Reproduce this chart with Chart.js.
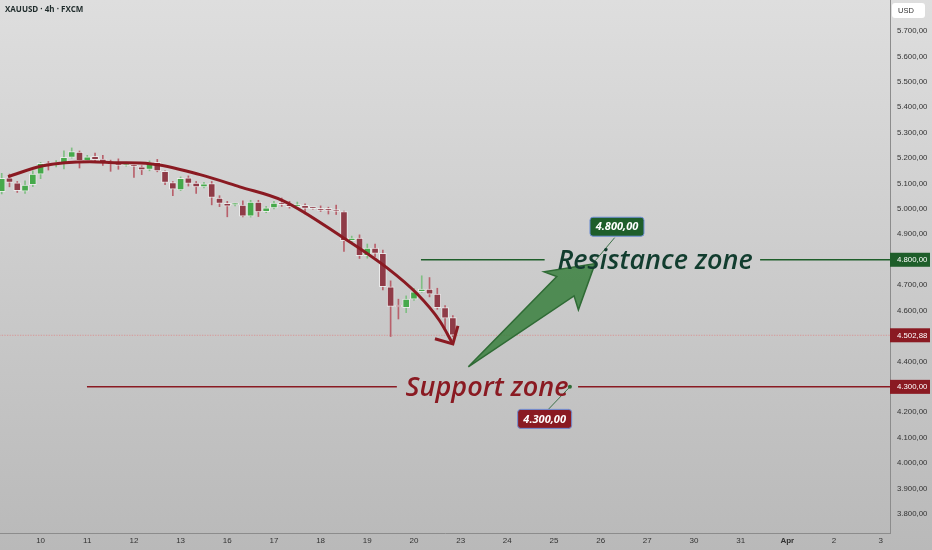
<!DOCTYPE html>
<html>
<head>
<meta charset="utf-8">
<script src="https://cdn.jsdelivr.net/npm/chart.js@4.4.1/dist/chart.umd.min.js"></script>
<style>
html, body { margin: 0; padding: 0; background: #cccccc; }
#wrap { width: 932px; height: 550px; position: relative; }
</style>
</head>
<body>
<div id="wrap"><canvas id="chart"></canvas></div>
<script>
// XAUUSD 4h candles, bar 0 = last bars of the 9th
let opens  = [5068, 5122, 5103, 5070, 5095, 5137, 5179, 5175, 5181, 5203, 5224, 5190, 5207, 5196, 5187, 5179, 5171, 5175, 5166, 5155,
              5183, 5148, 5104, 5075, 5122, 5102, 5087, 5100, 5043, 5022, 5016, 5015, 4972, 5027, 4989, 5004, 5024, 5019, 5009, 5014,
              5003, 5002, 4996, 4996, 4990, 4875, 4885, 4816, 4846, 4825, 4694, 4617, 4612, 4645, 4674, 4685, 4665, 4612, 4573]
let highs  = [5140, 5137, 5108, 5111, 5150, 5183, 5187, 5190, 5229, 5240, 5228, 5211, 5220, 5211, 5192, 5197, 5180, 5178, 5170, 5189,
              5195, 5150, 5108, 5126, 5130, 5108, 5105, 5108, 5052, 5030, 5022, 5032, 5034, 5034, 5010, 5030, 5043, 5030, 5027, 5020,
              5004, 5012, 5007, 5015, 4992, 4893, 4898, 4862, 4862, 4838, 4717, 4645, 4658, 4688, 4737, 4730, 4688, 4620, 4580]
let lows   = [5059, 5087, 5065, 5061, 5088, 5119, 5153, 5165, 5157, 5200, 5161, 5186, 5187, 5171, 5148, 5156, 5168, 5124, 5135, 5150,
              5146, 5095, 5052, 5072, 5090, 5061, 5083, 5016, 5009, 4969, 5012, 4969, 4968, 4970, 4985, 5000, 5010, 5003, 5003, 4980,
              4999, 4990, 4980, 4978, 4833, 4868, 4805, 4806, 4812, 4681, 4498, 4567, 4592, 4640, 4672, 4654, 4605, 4533, 4497]
let closes = [5120, 5104, 5072, 5094, 5137, 5179, 5173, 5178, 5203, 5226, 5190, 5205, 5194, 5182, 5177, 5171, 5175, 5167, 5153, 5183,
              5150, 5104, 5078, 5120, 5100, 5087, 5099, 5045, 5022, 5011, 5018, 4972, 5027, 4988, 5004, 5023, 5017, 5009, 5015, 5002,
              5001, 4994, 4994, 4990, 4875, 4885, 4816, 4846, 4825, 4694, 4616, 4614, 4645, 4674, 4685, 4665, 4612, 4570, 4502.88]

// time axis: bar index where each day starts
let dayIdx    = [5, 11, 17, 23, 29, 35, 41, 47, 53, 59, 65, 71, 77, 83, 89, 95, 101, 107, 113]
let dayLabels = ['10', '11', '12', '13', '16', '17', '18', '19', '20', '23', '24', '25', '26', '27', '30', '31', 'Apr', '2', '3']
let priceTicks = [3800, 3900, 4000, 4100, 4200, 4300, 4400, 4500, 4600, 4700, 4800, 4900, 5000, 5100, 5200, 5300, 5400, 5500, 5600, 5700]

// drawings (bar index, price)
let arcX = [0.81, 5.31, 11.35, 14.8, 19.06, 25.5, 30.6, 36.2, 43.9, 49.5, 53.4, 56.3, 58.0]
let arcY = [5127, 5170, 5186, 5182, 5178, 5135, 5087, 5032, 4887, 4769, 4666, 4560, 4469]
let arcHeadX = [55.7, 58.0, 58.65]
let arcHeadY = [4489, 4469, 4540]
let upArrowX = [59.99, 71.36, 69.72, 76.28, 74.14, 73.58, 59.99]
let upArrowY = [4379, 4734, 4753, 4785, 4603, 4658, 4379]

let resistance = 4800
let support = 4300
let lastPrice = 4502.88
let resistanceSegX = [[53.9, 69.8], [97.5, 116]]
let supportSegX = [[10.96, 50.8], [74.1, 116]]
let zoneText = ['Resistance zone', 'Support zone']
let zoneTextX = [84.0, 62.4]
let calloutText = ['4.800,00', '4.300,00']
let calloutX = [79.1, 69.8]
let calloutY = [4930, 4174]
let linkX = [[78.8, 76.3], [70.2, 73.05]]
let linkY = [[4887, 4796], [4209, 4300]]


const GREEN = '#46a94b'
const RED = '#8f3b47'
const DARKRED = '#8a1a22'
const DARKGREEN = '#1e5e2a'

function fmt(v) {
    let s = v.toFixed(2).split('.')
    return s[0].replace(/\B(?=(\d{3})+(?!\d))/g, '.') + ',' + s[1]
}

function pts(xs, ys) {
    return xs.map((x, i) => ({ x: x, y: ys[i] }))
}

function lineSet(data, color, width, extra) {
    return Object.assign({
        type: 'line',
        data: data,
        borderColor: color,
        borderWidth: width,
        pointRadius: 0,
        fill: false,
        tension: 0,
        order: 1
    }, extra || {})
}

const up = closes.map((c, i) => c >= opens[i])

const datasets = [
    {
        type: 'bar',
        data: opens.map((o, i) => ({ x: i, y: [o, closes[i]] })),
        backgroundColor: up.map(u => u ? GREEN : RED),
        borderColor: 'rgba(238,238,238,0.85)',
        borderWidth: 1,
        borderSkipped: false,
        barThickness: 7,
        minBarLength: 2,
        grouped: false,
        order: 4
    },
    {
        type: 'bar',
        data: lows.map((l, i) => ({ x: i, y: [l, highs[i]] })),
        backgroundColor: up.map(u => u ? '#7fbf83' : '#b8606b'),
        barThickness: 1,
        grouped: false,
        order: 5
    },
    lineSet([{ x: -2, y: lastPrice }, { x: 120, y: lastPrice }], 'rgba(226,120,120,0.6)', 1, { borderDash: [1.3, 1.3], order: 6 }),
    lineSet(pts(arcX, arcY), DARKRED, 3, { cubicInterpolationMode: 'monotone' }),
    lineSet(pts(arcHeadX, arcHeadY), DARKRED, 3),
    lineSet(pts(upArrowX, upArrowY), '#2f6b35', 1.5, { fill: 'shape', backgroundColor: 'rgba(58,128,62,0.85)', order: 2 })
]
resistanceSegX.forEach(s => datasets.push(lineSet([{ x: s[0], y: resistance }, { x: s[1], y: resistance }], DARKGREEN, 1.5)))
supportSegX.forEach(s => datasets.push(lineSet([{ x: s[0], y: support }, { x: s[1], y: support }], DARKRED, 1.5)))
linkX.forEach((lx, i) => datasets.push(lineSet(pts(lx, linkY[i]), '#3c7048', 1)))


const overlay = {
    id: 'overlay',
    beforeDraw(chart) {
        const c = chart.ctx
        const g = c.createLinearGradient(0, 0, 0, chart.height)
        g.addColorStop(0, '#dedede')
        g.addColorStop(1, '#b9b9b9')
        c.save()
        c.fillStyle = g
        c.fillRect(0, 0, chart.width, chart.height)
        c.restore()
    },
    afterDatasetsDraw(chart) {
        const c = chart.ctx
        const xs = chart.scales.x, ys = chart.scales.y
        const area = chart.chartArea
        c.save()

        // zone captions
        c.textAlign = 'center'
        c.textBaseline = 'alphabetic'
        c.font = 'italic 600 27px "Open Sans"'
        c.fillStyle = '#123d2f'
        c.fillText(zoneText[0], xs.getPixelForValue(zoneTextX[0]), ys.getPixelForValue(resistance) + 9.5)
        c.fillStyle = DARKRED
        c.fillText(zoneText[1], xs.getPixelForValue(zoneTextX[1]), ys.getPixelForValue(support) + 9.5)

        // little anchor dot
        c.fillStyle = '#2f6b35'
        c.beginPath()
        c.arc(xs.getPixelForValue(linkX[1][1]), ys.getPixelForValue(linkY[1][1]), 2, 0, Math.PI * 2)
        c.fill()

        // price callouts
        const boxCol = [DARKGREEN, DARKRED]
        calloutText.forEach((t, i) => {
            const cx = xs.getPixelForValue(calloutX[i]), cy = ys.getPixelForValue(calloutY[i])
            c.beginPath()
            c.roundRect(cx - 27, cy - 9.5, 54, 19, 3)
            c.fillStyle = boxCol[i]
            c.fill()
            c.strokeStyle = '#6f8fd6'
            c.lineWidth = 1
            c.stroke()
            c.fillStyle = '#ffffff'
            c.font = 'italic bold 11px "Open Sans"'
            c.textAlign = 'center'
            c.textBaseline = 'middle'
            c.fillText(t, cx, cy + 0.5)
        })

        // price tags on the axis
        const tagCol = [DARKGREEN, DARKRED, DARKRED]
        const tagVal = [resistance, lastPrice, support]
        tagVal.forEach((v, i) => {
            const y = ys.getPixelForValue(v)
            c.fillStyle = tagCol[i]
            c.fillRect(area.right, y - 7, 40, 14)
            c.fillStyle = '#ffffff'
            c.font = '7.8px "Liberation Sans"'
            c.textAlign = 'left'
            c.textBaseline = 'middle'
            c.fillText(fmt(v), area.right + 7, y + 0.5)
        })

        // symbol title and currency box
        c.fillStyle = '#1f2b2b'
        c.font = 'bold 8px "Open Sans"'
        c.textAlign = 'left'
        c.textBaseline = 'middle'
        c.fillText('XAUUSD · 4h · FXCM', 5, 10)

        c.beginPath()
        c.roundRect(area.right + 2, 3, 33, 15, 3)
        c.fillStyle = '#ffffff'
        c.fill()
        c.fillStyle = '#333333'
        c.font = '7.5px "Liberation Sans"'
        c.fillText('USD', area.right + 8, 11)
        c.restore()
    }
}


const ctx = document.getElementById('chart').getContext('2d')
const chart = new Chart(ctx, {
    type: 'bar',
    data: { datasets: datasets },
    plugins: [overlay],
    options: {
        responsive: true,
        maintainAspectRatio: false,
        animation: false,
        layout: { padding: 0 },
        plugins: {
            legend: { display: false },
            tooltip: { enabled: false }
        },
        scales: {
            x: {
                type: 'linear',
                offset: false,
                min: -0.22,
                max: 114.2,
                grid: { display: false, drawTicks: false },
                border: { display: true, color: '#8c8c8c' },
                afterBuildTicks: s => { s.ticks = dayIdx.map(v => ({ value: v })) },
                afterFit: s => { s.height = 17 },
                ticks: {
                    autoSkip: false,
                    maxRotation: 0,
                    padding: 3,
                    color: '#333333',
                    font: (c) => ({
                        family: 'Liberation Sans',
                        size: 8,
                        weight: c.tick && dayLabels[dayIdx.indexOf(c.tick.value)] === 'Apr' ? 'bold' : 'normal'
                    }),
                    callback: v => dayLabels[dayIdx.indexOf(v)]
                }
            },
            y: {
                position: 'right',
                min: 3725,
                max: 5822,
                grid: { display: false, drawTicks: false },
                border: { display: true, color: '#8c8c8c' },
                afterBuildTicks: s => { s.ticks = priceTicks.map(v => ({ value: v })) },
                afterFit: s => { s.width = 42; s.paddingTop = 0; s.paddingBottom = 0 },
                ticks: {
                    padding: 7,
                    color: '#333333',
                    font: { family: 'Liberation Sans', size: 7.8 },
                    callback: v => fmt(v)
                }
            }
        }
    }
})
</script>
</body>
</html>
